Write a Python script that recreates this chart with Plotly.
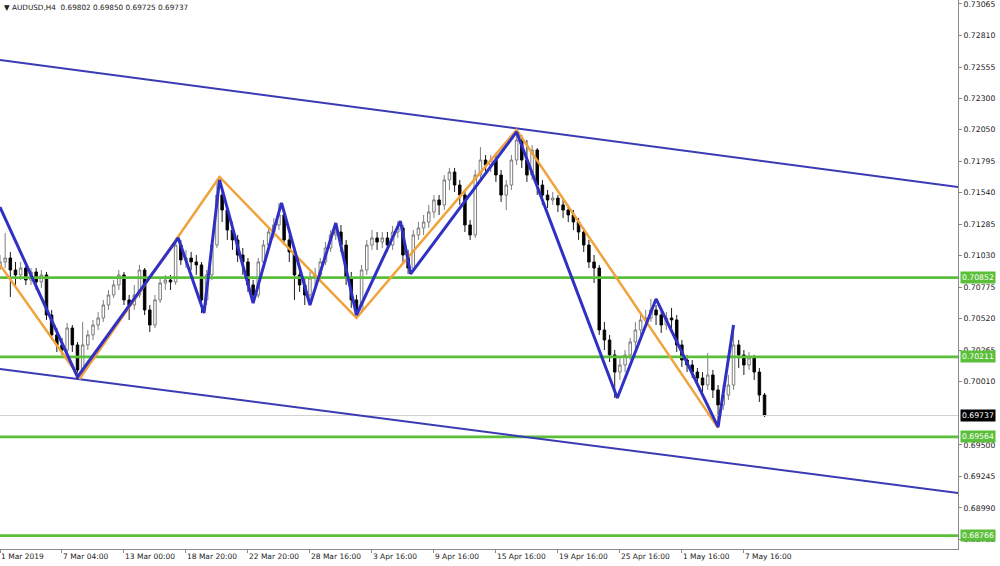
import plotly.graph_objects as go

# ---------------- data ----------------
# 8-hour candles (x = position in 4h-bar units)
first_open = 0.70930
closes = [
    0.70979, 0.71011, 0.70914, 0.70874, 0.70930, 0.70833, 0.70898, 0.70817, 0.70874, 0.70550,
    0.70389, 0.70308, 0.70267, 0.70445, 0.70308, 0.70106, 0.70308, 0.70389, 0.70469, 0.70526,
    0.70631, 0.70712, 0.70793, 0.70874, 0.70672, 0.70631, 0.70712, 0.70914, 0.70591, 0.70469,
    0.70672, 0.70809, 0.70833, 0.70817, 0.71116, 0.70995, 0.71011, 0.70979, 0.70955, 0.70672,
    0.70874, 0.71116, 0.71520, 0.71399, 0.71237, 0.71157, 0.71035, 0.70979, 0.70793, 0.70712,
    0.70979, 0.71116, 0.71221, 0.71278, 0.71359, 0.71157, 0.71060, 0.70874, 0.70793, 0.70712,
    0.70849, 0.70874, 0.70979, 0.71092, 0.71197, 0.71221, 0.71116, 0.70849, 0.70672, 0.70591,
    0.70914, 0.71116, 0.71173, 0.71140, 0.71173, 0.71116, 0.71221, 0.71254, 0.71035, 0.70930,
    0.71197, 0.71254, 0.71302, 0.71383, 0.71480, 0.71440, 0.71642, 0.71706, 0.71601, 0.71520,
    0.71278, 0.71197, 0.71682, 0.71803, 0.71763, 0.71803, 0.71682, 0.71520, 0.71601, 0.71803,
    0.71965, 0.71803, 0.71682, 0.71884, 0.71601, 0.71520, 0.71480, 0.71496, 0.71440, 0.71399,
    0.71359, 0.71302, 0.71221, 0.71116, 0.70979, 0.70930, 0.70429, 0.70348, 0.70227, 0.70089,
    0.70146, 0.70227, 0.70332, 0.70429, 0.70510, 0.70526, 0.70591, 0.70550, 0.70469, 0.70526,
    0.70510, 0.70308, 0.70186, 0.70146, 0.70089, 0.70041, 0.69984, 0.70065, 0.69944, 0.69823,
    0.69903, 0.69984, 0.70308, 0.70227, 0.70146, 0.70203, 0.70089, 0.69903, 0.69737]
highs = [
    0.71035, 0.71213, 0.71060, 0.70979, 0.70979, 0.70955, 0.70930, 0.70930, 0.70914, 0.70898,
    0.70591, 0.70445, 0.70364, 0.70486, 0.70469, 0.70332, 0.70494, 0.70429, 0.70510, 0.70574,
    0.70672, 0.70752, 0.70833, 0.70914, 0.70898, 0.70712, 0.70793, 0.70955, 0.70930, 0.70631,
    0.70712, 0.70849, 0.70874, 0.70874, 0.71173, 0.71157, 0.71076, 0.71060, 0.71035, 0.70979,
    0.70914, 0.71157, 0.71642, 0.71577, 0.71440, 0.71302, 0.71197, 0.71092, 0.71011, 0.70833,
    0.71011, 0.71157, 0.71254, 0.71334, 0.71456, 0.71399, 0.71197, 0.71092, 0.70914, 0.70849,
    0.70898, 0.70930, 0.71011, 0.71140, 0.71237, 0.71294, 0.71278, 0.71157, 0.70898, 0.70712,
    0.70955, 0.71157, 0.71237, 0.71221, 0.71221, 0.71221, 0.71270, 0.71310, 0.71278, 0.71076,
    0.71237, 0.71302, 0.71359, 0.71440, 0.71520, 0.71520, 0.71682, 0.71739, 0.71739, 0.71642,
    0.71561, 0.71318, 0.71723, 0.71908, 0.71844, 0.71844, 0.71844, 0.71723, 0.71642, 0.71844,
    0.72030, 0.72006, 0.71965, 0.71925, 0.71900, 0.71642, 0.71561, 0.71545, 0.71520, 0.71480,
    0.71440, 0.71399, 0.71334, 0.71254, 0.71157, 0.71035, 0.70955, 0.70494, 0.70389, 0.70267,
    0.70203, 0.70267, 0.70364, 0.70494, 0.70574, 0.70591, 0.70680, 0.70631, 0.70607, 0.70574,
    0.70607, 0.70550, 0.70348, 0.70227, 0.70186, 0.70122, 0.70089, 0.70243, 0.70106, 0.69984,
    0.69984, 0.70065, 0.70469, 0.70348, 0.70267, 0.70251, 0.70227, 0.70122, 0.69920]
lows = [
    0.70914, 0.70930, 0.70696, 0.70793, 0.70833, 0.70793, 0.70793, 0.70752, 0.70769, 0.70510,
    0.70348, 0.70251, 0.70227, 0.70227, 0.70251, 0.70041, 0.70065, 0.70267, 0.70348, 0.70429,
    0.70494, 0.70591, 0.70688, 0.70752, 0.70631, 0.70510, 0.70591, 0.70688, 0.70550, 0.70413,
    0.70445, 0.70647, 0.70752, 0.70752, 0.70793, 0.70955, 0.70930, 0.70914, 0.70874, 0.70566,
    0.70631, 0.70833, 0.71092, 0.71302, 0.71157, 0.71076, 0.70979, 0.70874, 0.70736, 0.70647,
    0.70688, 0.70930, 0.71076, 0.71173, 0.71237, 0.71116, 0.70979, 0.70672, 0.70736, 0.70631,
    0.70672, 0.70793, 0.70833, 0.70955, 0.71060, 0.71157, 0.71060, 0.70793, 0.70607, 0.70550,
    0.70574, 0.70874, 0.71076, 0.71076, 0.71092, 0.71060, 0.71076, 0.71173, 0.70979, 0.70882,
    0.70914, 0.71157, 0.71197, 0.71254, 0.71334, 0.71359, 0.71399, 0.71561, 0.71545, 0.71440,
    0.71221, 0.71157, 0.71173, 0.71642, 0.71682, 0.71706, 0.71626, 0.71464, 0.71399, 0.71561,
    0.71763, 0.71739, 0.71626, 0.71642, 0.71520, 0.71440, 0.71415, 0.71440, 0.71383, 0.71334,
    0.71302, 0.71237, 0.71157, 0.71060, 0.70930, 0.70809, 0.70389, 0.70267, 0.70170, 0.69879,
    0.70025, 0.70089, 0.70186, 0.70283, 0.70389, 0.70445, 0.70494, 0.70469, 0.70405, 0.70429,
    0.70445, 0.70251, 0.70130, 0.70089, 0.70041, 0.69984, 0.69928, 0.69944, 0.69879, 0.69637,
    0.69782, 0.69863, 0.69944, 0.70122, 0.70065, 0.70106, 0.70025, 0.69847, 0.69725]
opens = [first_open] + closes[:-1]
candle_bar = [2 * i for i in range(len(closes))]

# zigzag indicators (bar index, price)
orange_bars = [0, 31, 85, 138, 200, 278]
orange_prices = [0.70955, 0.70041, 0.71666, 0.70526, 0.72046, 0.69637]
blue_bars = [0, 30, 69, 79, 85, 98, 109, 120, 130, 138, 155, 159, 200, 239, 254, 278, 284]
blue_prices = [0.71423, 0.70049, 0.71173, 0.70566, 0.71642, 0.70647, 0.71456, 0.70631,
               0.71294, 0.70550, 0.71310, 0.70882, 0.72030, 0.69879, 0.70680, 0.69645, 0.70469]

# trend channel
channel_bars = [0, 371]
upper_prices = [0.72612, 0.71585]
lower_prices = [0.70114, 0.69111]

# horizontal levels
levels = [0.70852, 0.70211, 0.69564, 0.68766]
last_price = 0.69737

# axis labels
price_ticks = [0.73065, 0.72810, 0.72555, 0.72300, 0.72050, 0.71795, 0.71540, 0.71285,
               0.71030, 0.70775, 0.70520, 0.70265, 0.70010, 0.69500, 0.69245, 0.68990, 0.68735]
tick_bars = [0, 24, 48, 72, 96, 120, 144, 168, 192, 216, 240, 264, 288]
tick_labels = ["1 Mar 2019", "7 Mar 04:00", "13 Mar 00:00", "18 Mar 20:00", "22 Mar 20:00",
               "28 Mar 16:00", "3 Apr 16:00", "9 Apr 16:00", "15 Apr 16:00", "19 Apr 16:00",
               "25 Apr 16:00", "1 May 16:00", "7 May 16:00"]
header = "AUDUSD,H4&nbsp;&nbsp;0.69802 0.69850 0.69725 0.69737"

# ---------------- styles ----------------
FONT = "DejaVu Sans"
GREEN = "#5BBF3A"
BLUE = "#3030C4"
CHAN = "#3A3AB4"
ORANGE = "#F0A23C"
AXIS = "#8a8a8a"
X_RANGE = [0, 370.9]
Y_RANGE = [0.68658, 0.73097]

fig = go.Figure()

# current price line (behind)
fig.add_trace(go.Scatter(x=X_RANGE, y=[last_price, last_price], mode="lines",
                         line=dict(color="#cfcfcf", width=1), hoverinfo="skip", showlegend=False))

fig.add_trace(go.Candlestick(
    x=candle_bar, open=opens, high=highs, low=lows, close=closes,
    increasing=dict(line=dict(color="#707070", width=0.9), fillcolor="#ffffff"),
    decreasing=dict(line=dict(color="#000000", width=0.9), fillcolor="#000000"),
    whiskerwidth=0, showlegend=False, hoverinfo="skip"))

for lv in levels:
    fig.add_trace(go.Scatter(x=X_RANGE, y=[lv, lv], mode="lines",
                             line=dict(color=GREEN, width=2.7), hoverinfo="skip", showlegend=False))

fig.add_trace(go.Scatter(x=channel_bars, y=upper_prices, mode="lines",
                         line=dict(color=CHAN, width=2), hoverinfo="skip", showlegend=False))
fig.add_trace(go.Scatter(x=channel_bars, y=lower_prices, mode="lines",
                         line=dict(color=CHAN, width=2), hoverinfo="skip", showlegend=False))

fig.add_trace(go.Scatter(x=orange_bars, y=orange_prices, mode="lines",
                         line=dict(color=ORANGE, width=2.5), hoverinfo="skip", showlegend=False))
fig.add_trace(go.Scatter(x=blue_bars, y=blue_prices, mode="lines",
                         line=dict(color=BLUE, width=3), hoverinfo="skip", showlegend=False))

annotations = []
for lv in levels:
    annotations.append(dict(x=1, xref="paper", y=lv, yref="y", xanchor="left", yanchor="middle",
                            xshift=2, text=f"{lv:.5f}", showarrow=False,
                            font=dict(family=FONT, size=7.7, color="white"),
                            bgcolor=GREEN, borderpad=1))
annotations.append(dict(x=1, xref="paper", y=last_price, yref="y", xanchor="left", yanchor="middle",
                        xshift=2, text=f"{last_price:.5f}", showarrow=False,
                        font=dict(family=FONT, size=7.7, color="white"),
                        bgcolor="#000000", borderpad=1))
annotations.append(dict(x=0, xref="paper", y=1, yref="paper", xanchor="left", yanchor="top",
                        xshift=2, yshift=-1, text="▼ " + header, showarrow=False,
                        font=dict(family=FONT, size=7.3, color="#222222")))

fig.update_layout(
    width=1000, height=566,
    margin=dict(l=0, r=42, t=0, b=17),
    paper_bgcolor="white", plot_bgcolor="white",
    showlegend=False,
    annotations=annotations,
    xaxis=dict(range=X_RANGE, rangeslider=dict(visible=False), showgrid=False, zeroline=False,
               tickmode="array", tickvals=tick_bars, ticktext=tick_labels,
               ticks="outside", ticklen=3, tickcolor=AXIS, ticklabelposition="outside right",
               ticklabeloverflow="allow",
               tickfont=dict(family=FONT, size=7.5, color="#222222"),
               showline=True, linecolor=AXIS, linewidth=1, mirror=True),
    yaxis=dict(range=Y_RANGE, side="right", showgrid=False, zeroline=False,
               tickmode="array", tickvals=price_ticks, tickformat=".5f",
               ticks="outside", ticklen=3, tickcolor=AXIS, ticklabeloverflow="allow",
               tickfont=dict(family=FONT, size=7.7, color="#222222"),
               showline=True, linecolor=AXIS, linewidth=1, mirror=True),
)

fig.write_html("out.html", config={"displayModeBar": False},
               post_script="document.body.style.margin='0';document.body.style.overflow='hidden';")
